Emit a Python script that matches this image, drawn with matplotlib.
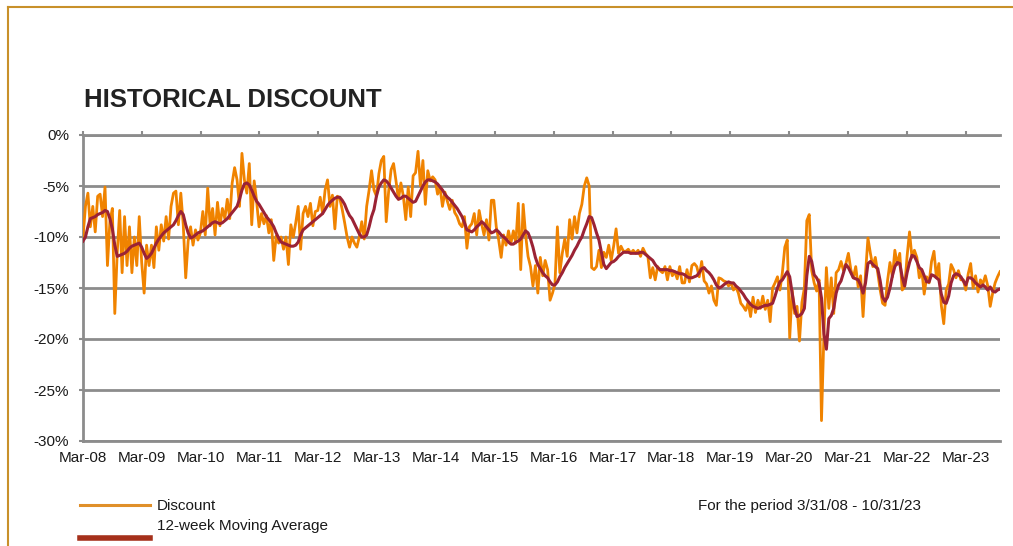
import matplotlib.pyplot as plt
import pandas as pd
from matplotlib.lines import Line2D

plt.rcParams['font.family'] = ['Liberation Sans', 'DejaVu Sans']

# Period covered by the chart
start, end = '2008-03-31', '2023-10-31'

# Discount (%), read roughly twice a month, one row per year from April
discount = [
    -10.0, -7.0, -5.7, -9.0, -7.0, -9.5, -6.0, -5.8, -8.0, -5.1, -12.8, -8.5, -7.2, -17.5, -11.5, -7.4, -13.5, -8.0, -12.8, -9.0, -13.5, -10.0, -12.8, -8.0,
    -12.5, -15.5, -10.8, -12.8, -10.8, -13.0, -9.0, -11.3, -8.8, -10.4, -8.0, -10.2, -7.0, -5.7, -5.5, -8.8, -5.7, -8.8, -14.0, -10.4, -9.0, -10.8, -9.3, -10.3,
    -9.6, -7.5, -9.8, -5.2, -8.9, -7.2, -9.8, -6.6, -8.9, -7.2, -8.2, -6.3, -8.2, -4.7, -3.2, -4.4, -7.0, -1.8, -4.4, -5.7, -2.8, -8.8, -4.5, -6.5,
    -9.0, -7.7, -8.7, -7.9, -9.6, -8.3, -12.3, -9.9, -10.6, -10.0, -11.2, -10.0, -12.7, -8.8, -10.0, -8.6, -7.0, -11.2, -7.7, -7.0, -8.0, -6.7, -8.9, -7.5,
    -7.4, -6.1, -7.7, -5.4, -4.4, -7.0, -5.9, -9.2, -6.0, -6.2, -7.3, -8.6, -10.0, -11.0, -10.0, -10.6, -11.0, -10.0, -8.5, -10.2, -7.0, -5.4, -3.5, -5.4,
    -6.0, -3.8, -2.5, -2.1, -8.5, -5.5, -3.4, -2.8, -4.5, -6.3, -4.7, -6.0, -8.3, -5.1, -8.0, -4.0, -3.7, -1.6, -5.0, -2.5, -6.8, -3.5, -4.5, -4.1,
    -4.4, -5.8, -5.1, -7.0, -5.6, -6.5, -7.3, -6.4, -7.6, -8.0, -8.7, -9.0, -8.0, -11.1, -9.0, -8.7, -7.7, -9.8, -7.4, -8.7, -9.8, -8.3, -10.3, -6.4,
    -6.4, -9.0, -10.3, -12.0, -9.8, -10.8, -9.4, -10.6, -9.4, -10.6, -6.7, -13.2, -6.8, -9.8, -11.9, -12.9, -14.8, -12.8, -15.5, -12.0, -13.8, -12.3, -13.2, -16.2,
    -15.5, -14.6, -9.0, -13.5, -11.6, -10.2, -11.9, -8.3, -10.2, -8.0, -9.6, -7.7, -6.8, -5.0, -4.2, -5.0, -13.0, -13.2, -12.9, -11.3, -13.0, -11.5, -12.0, -10.8,
    -12.3, -10.9, -9.2, -11.6, -10.9, -11.4, -11.4, -11.2, -11.6, -11.3, -11.6, -11.3, -11.9, -11.1, -11.6, -11.9, -14.0, -13.0, -14.2, -12.9, -13.3, -13.5, -12.9, -14.2,
    -12.9, -13.8, -13.4, -14.1, -12.9, -14.5, -14.5, -13.2, -14.4, -12.8, -12.6, -12.9, -13.9, -12.4, -14.3, -14.6, -15.5, -14.8, -16.2, -16.7, -14.0, -14.1, -14.3, -14.4,
    -14.8, -14.5, -15.2, -14.9, -15.5, -16.5, -16.8, -17.2, -16.4, -17.8, -15.9, -17.4, -16.2, -17.0, -15.8, -17.1, -16.2, -18.3, -15.0, -14.5, -13.9, -15.2, -13.5, -11.0,
    -10.3, -19.9, -15.2, -17.5, -16.8, -20.2, -16.4, -15.0, -8.4, -7.8, -13.3, -14.5, -15.3, -14.2, -28.0, -19.5, -13.0, -17.0, -14.0, -17.5, -13.5, -13.2, -12.4, -13.3,
    -12.6, -11.6, -13.2, -14.0, -12.9, -14.9, -13.8, -17.8, -13.6, -10.1, -11.6, -12.9, -12.0, -13.5, -15.2, -16.5, -16.7, -14.3, -12.5, -13.9, -11.3, -12.7, -11.6, -15.2,
    -14.9, -11.9, -9.5, -12.0, -11.3, -12.0, -14.0, -13.2, -15.6, -13.9, -14.5, -12.4, -11.4, -14.0, -12.6, -16.7, -18.5, -15.2, -14.6, -12.7, -13.2, -14.0, -13.3, -14.2,
    -14.2, -15.2, -13.6, -12.6, -15.0, -13.8, -15.4, -14.2, -14.6, -13.8, -14.8, -16.8, -15.5, -14.5, -13.9, -13.4,
]

# 12-week moving average (%), same dates
moving_avg = [
    -10.4, -10.0, -9.0, -8.2, -8.1, -8.0, -7.8, -7.7, -7.6, -7.4, -7.5, -8.2, -9.2, -10.8, -11.9, -11.8, -11.7, -11.6, -11.4, -11.1, -10.9, -10.8, -10.7, -10.6,
    -11.0, -11.6, -12.1, -11.9, -11.6, -11.1, -10.6, -10.2, -9.9, -9.6, -9.4, -9.2, -9.0, -8.8, -8.4, -7.9, -7.5, -7.8, -8.8, -9.6, -10.1, -10.0, -9.8, -9.6,
    -9.5, -9.4, -9.2, -9.0, -8.8, -8.6, -8.5, -8.6, -8.7, -8.6, -8.4, -8.2, -7.9, -7.6, -7.3, -7.0, -6.3, -5.4, -4.8, -4.7, -4.9, -5.4, -6.0, -6.5,
    -6.8, -7.2, -7.6, -8.0, -8.3, -8.6, -9.0, -9.6, -10.1, -10.5, -10.6, -10.7, -10.8, -10.9, -10.9, -10.8, -10.5, -9.8, -9.3, -9.1, -8.9, -8.7, -8.5, -8.3,
    -8.1, -7.9, -7.7, -7.3, -6.9, -6.6, -6.4, -6.2, -6.1, -6.1, -6.4, -6.8, -7.4, -7.9, -8.2, -8.7, -9.2, -9.7, -10.0, -10.0, -9.8, -9.0, -8.0, -7.3,
    -6.0, -5.1, -4.7, -4.4, -4.5, -4.8, -5.2, -5.6, -6.0, -6.3, -6.2, -6.0, -6.0, -6.2, -6.4, -6.6, -6.5, -6.0, -5.5, -5.0, -4.6, -4.4, -4.4, -4.5,
    -4.6, -4.8, -5.1, -5.4, -5.8, -6.1, -6.3, -6.6, -6.9, -7.2, -7.6, -8.0, -8.6, -9.3, -9.4, -9.5, -9.3, -9.0, -8.8, -8.5, -8.7, -9.0, -9.3, -9.6,
    -9.5, -9.3, -9.5, -9.8, -10.0, -10.2, -10.5, -10.7, -10.7, -10.5, -10.4, -10.2, -9.8, -9.4, -9.6, -10.2, -11.0, -12.0, -12.7, -13.1, -13.5, -13.8, -14.0, -14.4,
    -14.7, -14.7, -14.4, -13.9, -13.5, -13.0, -12.6, -12.2, -11.8, -11.3, -10.9, -10.4, -10.0, -9.3, -8.7, -8.0, -8.1, -8.8, -9.6, -10.3, -11.5, -12.7, -13.1, -12.8,
    -12.5, -12.4, -12.2, -11.9, -11.7, -11.5, -11.5, -11.5, -11.6, -11.6, -11.6, -11.6, -11.5, -11.5, -11.7, -11.9, -12.1, -12.3, -12.7, -13.0, -13.2, -13.2, -13.2, -13.2,
    -13.3, -13.3, -13.4, -13.5, -13.6, -13.6, -13.7, -13.9, -14.0, -14.0, -13.9, -13.8, -13.5, -13.1, -13.0, -13.3, -13.5, -13.8, -14.2, -14.7, -15.0, -14.9, -14.7, -14.5,
    -14.4, -14.5, -14.5, -14.8, -15.0, -15.3, -15.6, -16.0, -16.3, -16.6, -16.8, -16.9, -17.0, -16.9, -16.8, -16.7, -16.7, -16.6, -16.5, -15.8, -15.0, -14.4, -14.2, -13.8,
    -13.4, -13.9, -15.5, -17.0, -17.8, -17.7, -17.5, -17.0, -13.8, -11.9, -12.4, -13.7, -14.0, -14.5, -16.0, -19.5, -21.0, -18.0, -17.7, -17.0, -15.5, -14.7, -14.3, -13.5,
    -12.7, -13.0, -13.5, -14.0, -14.1, -14.2, -14.7, -15.5, -14.5, -12.6, -12.4, -12.7, -12.9, -13.1, -14.3, -15.9, -16.3, -15.9, -15.0, -13.8, -12.9, -12.5, -12.6, -13.9,
    -14.8, -13.5, -12.5, -11.8, -11.9, -12.4, -13.0, -13.2, -13.8, -14.4, -14.4, -13.7, -13.8, -14.0, -14.2, -15.6, -16.4, -16.5, -15.8, -14.5, -13.8, -13.6, -13.7, -13.9,
    -14.3, -14.7, -14.0, -14.0, -14.2, -14.5, -14.7, -14.9, -14.7, -14.9, -15.2, -14.9, -15.3, -15.4, -15.2, -15.1,
]

tick_years = list(range(2008, 2024))
tick_labels = [f"Mar-{y % 100:02d}" for y in tick_years]
y_ticks = [0, -5, -10, -15, -20, -25, -30]
y_labels = ['0%', '-5%', '-10%', '-15%', '-20%', '-25%', '-30%']

dates = pd.date_range(start, end, periods=len(discount))

W, H = 1013, 546
fig = plt.figure(figsize=(W / 100, H / 100), dpi=100)
ax = fig.add_axes([83 / W, 1 - 441 / H, 917 / W, 306 / H])

grey = '#8c8c8c'
txt = '#1a1a1a'

ax.plot(dates, discount, color='#f08300', lw=2.0, zorder=3)
ax.plot(dates, moving_avg, color='#9b2335', lw=2.2, zorder=4)

ax.set_ylim(-30, 0)
ax.set_xlim(pd.Timestamp(start), pd.Timestamp(end))
ax.set_yticks(y_ticks)
ax.set_yticklabels(y_labels)
ax.set_xticks([pd.Timestamp(f'{y}-03-31') for y in tick_years])
ax.set_xticklabels(tick_labels)

ax.grid(axis='y', color=grey, lw=2)
ax.set_axisbelow(True)
ax.spines['right'].set_visible(False)
for s in ['left', 'top', 'bottom']:
    ax.spines[s].set_color(grey)
    ax.spines[s].set_linewidth(2)

# ticks sit on the 0% line, labels at the bottom
ax.tick_params(axis='x', top=True, bottom=False, labeltop=False, labelbottom=True,
               direction='out', length=3, width=1.5, color=grey,
               labelsize=11, labelcolor=txt, pad=4)
ax.tick_params(axis='y', direction='out', length=3, width=1.5, color=grey,
               labelsize=11, labelcolor=txt, pad=7)

# page frame
frame = '#c8902a'
fig.add_artist(Line2D([8 / W, 1], [1 - 7 / H] * 2, transform=fig.transFigure, color=frame, lw=1.5))
fig.add_artist(Line2D([8 / W] * 2, [0, 1 - 7 / H], transform=fig.transFigure, color=frame, lw=1.5))

fig.text(84 / W, 1 - 107 / H, 'HISTORICAL DISCOUNT', fontsize=18.5, fontweight='bold',
         color='#222222', va='baseline', ha='left')

# legend drawn by hand
fig.add_artist(Line2D([80 / W, 150 / W], [1 - 505 / H] * 2, transform=fig.transFigure,
                      color='#e0902a', lw=2.2))
fig.add_artist(Line2D([80 / W, 150 / W], [1 - 538 / H] * 2, transform=fig.transFigure,
                      color='#a5301a', lw=4))
fig.text(157 / W, 1 - 506 / H, 'Discount', fontsize=11, color=txt, va='center')
fig.text(157 / W, 1 - 526 / H, '12-week Moving Average', fontsize=11, color=txt, va='center')
fig.text(698 / W, 1 - 506 / H, 'For the period 3/31/08 - 10/31/23', fontsize=11, color=txt, va='center')

fig.savefig('out.png', dpi=100)
